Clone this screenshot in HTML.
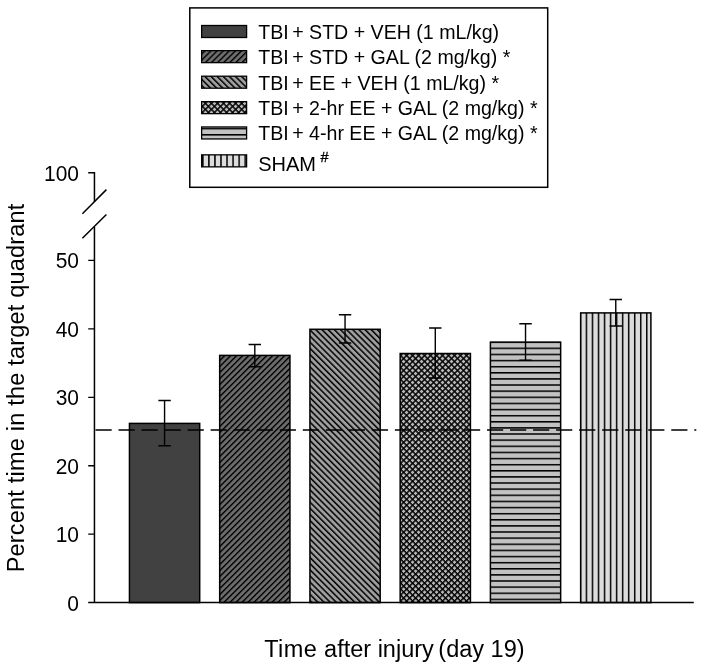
<!DOCTYPE html>
<html><head><meta charset="utf-8"><style>
html,body{margin:0;padding:0;background:#fff;}
svg{display:block;will-change:transform;}
text{font-family:"Liberation Sans",sans-serif;fill:#000;}
</style></head><body>
<svg width="704" height="669" viewBox="0 0 704 669">
<defs>
<pattern id="p2" patternUnits="userSpaceOnUse" x="2.341" y="0" width="4.2426" height="20" patternTransform="rotate(45)"><rect width="4.2526" height="20" fill="#6e6e6e"/><rect width="1.4" height="20" fill="#000"/></pattern>
<pattern id="p3" patternUnits="userSpaceOnUse" x="2.503" y="0" width="4.3487" height="20" patternTransform="rotate(-45)"><rect width="4.3587" height="20" fill="#9e9e9e"/><rect width="1.5" height="20" fill="#000"/></pattern>
<pattern id="p4" patternUnits="userSpaceOnUse" x="0.423" y="1.249" width="4.2342" height="4.2342" patternTransform="rotate(45)"><rect width="4.2442" height="4.2442" fill="#b8b8b8"/><rect width="1.45" height="4.2442" fill="#000"/><rect width="4.2442" height="1.45" fill="#000"/></pattern>
<pattern id="p5" patternUnits="userSpaceOnUse" x="0" y="4.606" width="20" height="6.124"><rect width="20" height="6.1339999999999995" fill="#c2c2c2"/><rect width="20" height="1.5" fill="#000"/></pattern>
<pattern id="p6" patternUnits="userSpaceOnUse" x="0.740" y="0" width="6.03" height="20"><rect width="6.04" height="20" fill="#dcdcdc"/><rect width="1.5" height="20" fill="#000"/></pattern>
<pattern id="q2" patternUnits="userSpaceOnUse" x="3.260" y="0" width="4.3134" height="20" patternTransform="rotate(45)"><rect width="4.3234" height="20" fill="#6e6e6e"/><rect width="1.4" height="20" fill="#000"/></pattern>
<pattern id="q3" patternUnits="userSpaceOnUse" x="3.811" y="0" width="4.3134" height="20" patternTransform="rotate(-45)"><rect width="4.3234" height="20" fill="#9e9e9e"/><rect width="1.5" height="20" fill="#000"/></pattern>
<pattern id="q4" patternUnits="userSpaceOnUse" x="3.659" y="4.119" width="4.2780" height="4.2780" patternTransform="rotate(45)"><rect width="4.2880" height="4.2880" fill="#b8b8b8"/><rect width="1.45" height="4.2880" fill="#000"/><rect width="4.2880" height="1.45" fill="#000"/></pattern>
<pattern id="q5" patternUnits="userSpaceOnUse" x="0" y="2.800" width="20" height="6.25"><rect width="20" height="6.26" fill="#c2c2c2"/><rect width="20" height="1.5" fill="#000"/></pattern>
<pattern id="q6" patternUnits="userSpaceOnUse" x="2.450" y="0" width="6.05" height="20"><rect width="6.06" height="20" fill="#dcdcdc"/><rect width="1.5" height="20" fill="#000"/></pattern>
</defs>
<rect x="189.8" y="7.9" width="357.9" height="179.4" fill="#fff" stroke="#000" stroke-width="1.5"/>
<g stroke="#000" stroke-width="1.3">
<rect x="201.65" y="25.5" width="44.95" height="12.0" fill="#414141"/>
<rect x="201.65" y="50.65" width="44.95" height="12.0" fill="url(#q2)"/>
<rect x="201.65" y="76.2" width="44.95" height="12.0" fill="url(#q3)"/>
<rect x="201.65" y="101.65" width="44.95" height="12.0" fill="url(#q4)"/>
<rect x="201.65" y="126.95" width="44.95" height="12.0" fill="url(#q5)"/>
<rect x="201.65" y="154.85" width="44.95" height="12.0" fill="url(#q6)"/>
</g>
<g font-size="20" word-spacing="0">
<text transform="translate(258.2 38.7) scale(0.98 1)">TBI <tspan dx="-2">+</tspan> STD + VEH (1 mL/kg)</text>
<text transform="translate(258.2 64.1) scale(0.98 1)">TBI <tspan dx="-2">+</tspan> STD + GAL (2 mg/kg) *</text>
<text transform="translate(258.2 89.5) scale(0.98 1)">TBI <tspan dx="-2">+</tspan> EE + VEH (1 mL/kg) *</text>
<text transform="translate(258.2 114.9) scale(0.98 1)">TBI <tspan dx="-2">+</tspan> 2-hr EE + GAL (2 mg/kg) *</text>
<text transform="translate(258.2 140.3) scale(0.98 1)">TBI <tspan dx="-2">+</tspan> 4-hr EE + GAL (2 mg/kg) *</text>
<text transform="translate(258.2 170.5) scale(1.0 1)">SHAM</text>
</g>
<text x="320.4" y="161.9" font-size="14.5" stroke="#000" stroke-width="0.35">#</text>
<g stroke="#000" stroke-width="1.5">
<rect x="129.45" y="423.4" width="70.25" height="179.20" fill="#414141"/>
<rect x="219.69" y="355.4" width="70.25" height="247.20" fill="url(#p2)"/>
<rect x="309.93" y="329.3" width="70.25" height="273.30" fill="url(#p3)"/>
<rect x="400.17" y="353.5" width="70.25" height="249.10" fill="url(#p4)"/>
<rect x="490.41" y="342.1" width="70.25" height="260.50" fill="url(#p5)"/>
<rect x="580.65" y="312.9" width="70.25" height="289.70" fill="url(#p6)"/>
</g>
<line x1="95.5" y1="430" x2="696.3" y2="430" stroke="#000" stroke-width="1.5" stroke-dasharray="16.2 6.83"/>
<g stroke="#000" stroke-width="1.4" fill="none">
<path d="M164.57 400.5V445.7M158.38 400.5H170.77M158.38 445.7H170.77"/>
<path d="M254.81 344.5V366.7M248.62 344.5H261.01M248.62 366.7H261.01"/>
<path d="M345.05 314.8V343.0M338.85 314.8H351.25M338.85 343.0H351.25"/>
<path d="M435.29 328.0V378.0M429.09 328.0H441.49M429.09 378.0H441.49"/>
<path d="M525.53 323.8V360.3M519.33 323.8H531.74M519.33 360.3H531.74"/>
<path d="M615.77 299.5V326.0M609.57 299.5H621.98M609.57 326.0H621.98"/>
</g>
<g stroke="#000" stroke-width="1.5" fill="none">
<path d="M88.2 172.8H94.45V201.7"/>
<path d="M94.45 226.9V602.6"/>
<path d="M88.2 602.6H693.8"/>
<path stroke-width="1.3" d="M88.2 260.45H94.45M88.2 328.88H94.45M88.2 397.31H94.45M88.2 465.74H94.45M88.2 534.17H94.45"/>
<path d="M82.4 213.8L106.4 189.6M82.4 238.3L106.4 214.5"/>
</g>
<g font-size="21.5" text-anchor="end">
<text transform="translate(79.0 180.80) scale(0.975 1)">100</text>
<text transform="translate(79.0 268.45) scale(0.975 1)">50</text>
<text transform="translate(79.0 336.88) scale(0.975 1)">40</text>
<text transform="translate(79.0 405.31) scale(0.975 1)">30</text>
<text transform="translate(79.0 473.74) scale(0.975 1)">20</text>
<text transform="translate(79.0 542.17) scale(0.975 1)">10</text>
<text transform="translate(79.0 610.60) scale(0.975 1)">0</text>
</g>
<text x="264.2" y="656.5" font-size="23.5"><tspan letter-spacing="0.45">Time</tspan> <tspan dx="0.2">after injury</tspan> <tspan dx="-2">(day 19)</tspan></text>
<text transform="translate(23.6 572.3) rotate(-90)" font-size="23.5" letter-spacing="0.2">Percent time in the target quadrant</text>
</svg>
</body></html>
